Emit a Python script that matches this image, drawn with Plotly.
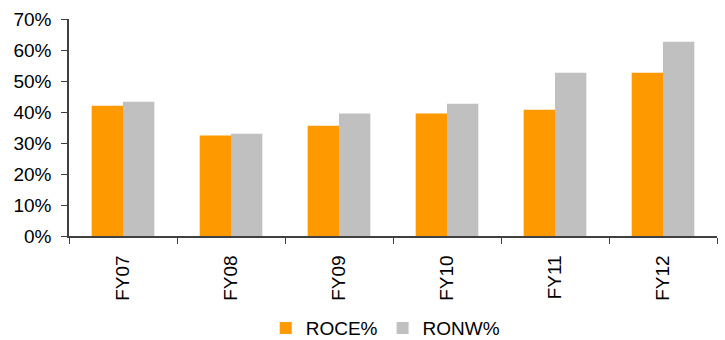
import plotly.graph_objects as go

# Return ratios by fiscal year
years = ["FY07", "FY08", "FY09", "FY10", "FY11", "FY12"]
roce = [42.0, 32.4, 35.6, 39.5, 40.7, 52.7]
ronw = [43.3, 33.0, 39.5, 42.7, 52.7, 62.7]
y_ticks = [0, 10, 20, 30, 40, 50, 60, 70]
y_tick_text = [f"{v}%" for v in y_ticks]

FONT = "Liberation Sans, Arial, sans-serif"
AXIS_COLOR = "#404040"

fig = go.Figure()
fig.add_trace(go.Bar(name="ROCE%", x=years, y=roce, marker_color="#FF9900",
                     marker_line_width=0))
fig.add_trace(go.Bar(name="RONW%", x=years, y=ronw, marker_color="#C0C0C0",
                     marker_line_width=0))

fig.update_layout(
    width=725, height=340,
    margin=dict(l=69, r=8, t=19, b=104, autoexpand=False),
    barmode="group", bargap=0.42, bargroupgap=0,
    plot_bgcolor="white", paper_bgcolor="white",
    font=dict(family=FONT, size=19, color="#000000"),
    showlegend=True,
    legend=dict(orientation="h", xref="container", yref="container",
                x=0.532, xanchor="center", y=0.035, yanchor="middle",
                font=dict(size=19), itemwidth=30, tracegroupgap=0),
)
fig.update_xaxes(
    showline=True, linecolor=AXIS_COLOR, linewidth=1.5,
    ticks="outside", tickson="boundaries", ticklen=6, tickcolor=AXIS_COLOR,
    tickangle=-90, ticklabelstandoff=10, automargin=False,
    showgrid=False, zeroline=False,
)
fig.update_yaxes(
    range=[0, 70], tickvals=y_ticks, ticktext=y_tick_text,
    showline=True, linecolor=AXIS_COLOR, linewidth=1.5,
    ticks="outside", ticklen=6, tickcolor=AXIS_COLOR, ticklabelstandoff=6,
    automargin=False, showgrid=False, zeroline=False,
)

fig.write_html("out.html")
